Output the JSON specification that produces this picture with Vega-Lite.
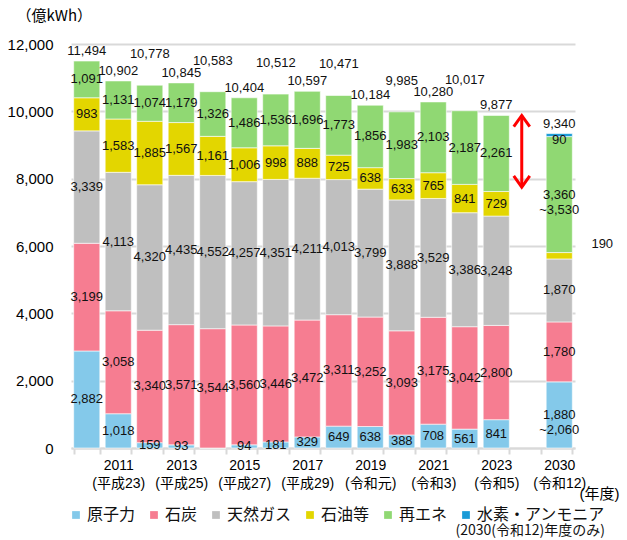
{
  "$schema": "https://vega.github.io/schema/vega-lite/v6.json",
  "width": 504,
  "height": 404,
  "autosize": {"type": "none"},
  "padding": {"left": 71, "top": 44, "right": 52, "bottom": 92},
  "background": "white",
  "config": {
    "view": {"stroke": null},
    "font": "Liberation Sans, Noto Sans CJK JP",
    "axis": {"labelColor": "#000", "titleColor": "#000"}
  },
  "datasets": {
    "gen": [
      {"year": "2010", "source": "原子力", "value": 2882},
      {"year": "2010", "source": "石炭", "value": 3199},
      {"year": "2010", "source": "天然ガス", "value": 3339},
      {"year": "2010", "source": "石油等", "value": 983},
      {"year": "2010", "source": "再エネ", "value": 1091},
      {"year": "2011", "source": "原子力", "value": 1018},
      {"year": "2011", "source": "石炭", "value": 3058},
      {"year": "2011", "source": "天然ガス", "value": 4113},
      {"year": "2011", "source": "石油等", "value": 1583},
      {"year": "2011", "source": "再エネ", "value": 1131},
      {"year": "2012", "source": "原子力", "value": 159},
      {"year": "2012", "source": "石炭", "value": 3340},
      {"year": "2012", "source": "天然ガス", "value": 4320},
      {"year": "2012", "source": "石油等", "value": 1885},
      {"year": "2012", "source": "再エネ", "value": 1074},
      {"year": "2013", "source": "原子力", "value": 93},
      {"year": "2013", "source": "石炭", "value": 3571},
      {"year": "2013", "source": "天然ガス", "value": 4435},
      {"year": "2013", "source": "石油等", "value": 1567},
      {"year": "2013", "source": "再エネ", "value": 1179},
      {"year": "2014", "source": "原子力", "value": 0},
      {"year": "2014", "source": "石炭", "value": 3544},
      {"year": "2014", "source": "天然ガス", "value": 4552},
      {"year": "2014", "source": "石油等", "value": 1161},
      {"year": "2014", "source": "再エネ", "value": 1326},
      {"year": "2015", "source": "原子力", "value": 94},
      {"year": "2015", "source": "石炭", "value": 3560},
      {"year": "2015", "source": "天然ガス", "value": 4257},
      {"year": "2015", "source": "石油等", "value": 1006},
      {"year": "2015", "source": "再エネ", "value": 1486},
      {"year": "2016", "source": "原子力", "value": 181},
      {"year": "2016", "source": "石炭", "value": 3446},
      {"year": "2016", "source": "天然ガス", "value": 4351},
      {"year": "2016", "source": "石油等", "value": 998},
      {"year": "2016", "source": "再エネ", "value": 1536},
      {"year": "2017", "source": "原子力", "value": 329},
      {"year": "2017", "source": "石炭", "value": 3472},
      {"year": "2017", "source": "天然ガス", "value": 4211},
      {"year": "2017", "source": "石油等", "value": 888},
      {"year": "2017", "source": "再エネ", "value": 1696},
      {"year": "2018", "source": "原子力", "value": 649},
      {"year": "2018", "source": "石炭", "value": 3311},
      {"year": "2018", "source": "天然ガス", "value": 4013},
      {"year": "2018", "source": "石油等", "value": 725},
      {"year": "2018", "source": "再エネ", "value": 1773},
      {"year": "2019", "source": "原子力", "value": 638},
      {"year": "2019", "source": "石炭", "value": 3252},
      {"year": "2019", "source": "天然ガス", "value": 3799},
      {"year": "2019", "source": "石油等", "value": 638},
      {"year": "2019", "source": "再エネ", "value": 1856},
      {"year": "2020", "source": "原子力", "value": 388},
      {"year": "2020", "source": "石炭", "value": 3093},
      {"year": "2020", "source": "天然ガス", "value": 3888},
      {"year": "2020", "source": "石油等", "value": 633},
      {"year": "2020", "source": "再エネ", "value": 1983},
      {"year": "2021", "source": "原子力", "value": 708},
      {"year": "2021", "source": "石炭", "value": 3175},
      {"year": "2021", "source": "天然ガス", "value": 3529},
      {"year": "2021", "source": "石油等", "value": 765},
      {"year": "2021", "source": "再エネ", "value": 2103},
      {"year": "2022", "source": "原子力", "value": 561},
      {"year": "2022", "source": "石炭", "value": 3042},
      {"year": "2022", "source": "天然ガス", "value": 3386},
      {"year": "2022", "source": "石油等", "value": 841},
      {"year": "2022", "source": "再エネ", "value": 2187},
      {"year": "2023", "source": "原子力", "value": 841},
      {"year": "2023", "source": "石炭", "value": 2800},
      {"year": "2023", "source": "天然ガス", "value": 3248},
      {"year": "2023", "source": "石油等", "value": 729},
      {"year": "2023", "source": "再エネ", "value": 2261},
      {"year": "2030", "source": "原子力", "value": 1965, "label": "1,880\n~2,060"},
      {"year": "2030", "source": "石炭", "value": 1780},
      {"year": "2030", "source": "天然ガス", "value": 1870},
      {"year": "2030", "source": "石油等", "value": 190},
      {"year": "2030", "source": "再エネ", "value": 3445, "label": "3,360\n~3,530"},
      {"year": "2030", "source": "水素・アンモニア", "value": 90}
    ],
    "totals": [
      {"year": "2010", "total": 11494, "pos": "low"},
      {"year": "2011", "total": 10902, "pos": "low"},
      {"year": "2012", "total": 10778, "pos": "high"},
      {"year": "2013", "total": 10845, "pos": "low"},
      {"year": "2014", "total": 10583, "pos": "high"},
      {"year": "2015", "total": 10404, "pos": "low"},
      {"year": "2016", "total": 10512, "pos": "high"},
      {"year": "2017", "total": 10597, "pos": "low"},
      {"year": "2018", "total": 10471, "pos": "high"},
      {"year": "2019", "total": 10184, "pos": "low"},
      {"year": "2020", "total": 9985, "pos": "high"},
      {"year": "2021", "total": 10280, "pos": "low"},
      {"year": "2022", "total": 10017, "pos": "high"},
      {"year": "2023", "total": 9877, "pos": "low"},
      {"year": "2030", "total": 9340, "pos": "low"}
    ],
    "arrow": [
      {"year": "gap", "top": 9877, "bottom": 7750}
    ]
  },
  "layer": [
    {
      "data": {"name": "gen"},
      "transform": [
        {"calculate": "indexof(['原子力','石炭','天然ガス','石油等','再エネ','水素・アンモニア'], datum.source)", "as": "ord"},
        {"stack": "value", "groupby": ["year"], "sort": [{"field": "ord", "order": "ascending"}], "as": ["y0", "y1"]},
        {"calculate": "(datum.y0 + datum.y1) / 2", "as": "mid"},
        {"calculate": "datum.label != null ? datum.label : (datum.value > 0 ? format(datum.value, ',') : '')", "as": "txt"}
      ],
      "layer": [
        {
          "mark": {"type": "bar", "stroke": "white", "strokeWidth": 0.6},
          "encoding": {
            "x": {
              "field": "year", "type": "nominal", "title": "(年度)",
              "scale": {"domain": ["2010","2011","2012","2013","2014","2015","2016","2017","2018","2019","2020","2021","2022","2023","gap","2030"], "paddingInner": 0.17, "paddingOuter": 0.085},
              "axis": {
                "labelExpr": "datum.value == '2011' ? ['2011','(平成23)'] : datum.value == '2013' ? ['2013','(平成25)'] : datum.value == '2015' ? ['2015','(平成27)'] : datum.value == '2017' ? ['2017','(平成29)'] : datum.value == '2019' ? ['2019','(令和元)'] : datum.value == '2021' ? ['2021','(令和3)'] : datum.value == '2023' ? ['2023','(令和5)'] : datum.value == '2030' ? ['2030','(令和12)'] : ''",
                "labelAngle": 0, "labelFontSize": 14, "labelLineHeight": 18, "labelBaseline": "top", "labelPadding": 4,
                "labelOverlap": false, "labelFont": "Liberation Sans, Noto Sans CJK JP",
                "tickBand": "extent", "ticks": true, "tickColor": "#d9d9d9", "tickSize": 6, "tickWidth": 2,
                "domain": true, "domainColor": "#d9d9d9", "domainWidth": 2, "grid": false,
                "titleAngle": 0, "titleAlign": "left", "titleBaseline": "middle", "titleX": 508, "titleY": 45,
                "titleFontSize": 15, "titleFontWeight": "normal", "titleFont": "Liberation Sans, Noto Sans CJK JP"
              }
            },
            "y": {
              "field": "y0", "type": "quantitative", "title": "（億kWh）",
              "scale": {"domain": [0, 12000], "nice": false},
              "axis": {
                "values": [0, 2000, 4000, 6000, 8000, 10000, 12000], "format": ",.0f",
                "labelFontSize": 15, "labelPadding": 18, "domain": false, "ticks": false,
                "grid": true, "gridColor": "#d9d9d9", "gridWidth": 2,
                "titleAngle": 0, "titleAlign": "left", "titleBaseline": "middle", "titleX": -55, "titleY": -29,
                "titleFontSize": 15, "titleFontWeight": "normal", "titleFont": "Noto Sans CJK JP"
              }
            },
            "y2": {"field": "y1"},
            "color": {
              "field": "source", "type": "nominal",
              "scale": {
                "domain": ["原子力", "石炭", "天然ガス", "石油等", "再エネ", "水素・アンモニア"],
                "range": ["#84C9EA", "#F67D91", "#BFBFBF", "#E3D600", "#90D873", "#1A9BD7"]
              },
              "legend": {
                "orient": "none", "legendX": -3, "legendY": 463, "direction": "horizontal", "columns": 6,
                "symbolType": "square", "symbolSize": 60, "symbolStrokeWidth": 0,
                "labelFontSize": 16, "labelFont": "Noto Sans CJK JP", "labelColor": "#111", "labelOffset": 3, "labelLimit": 200,
                "columnPadding": 10, "padding": 0,
                "title": "(2030(令和12)年度のみ)", "titleOrient": "bottom", "titleAnchor": "end",
                "titleFontSize": 14, "titleFontWeight": "normal", "titleFont": "Noto Sans CJK JP", "titleColor": "#111", "titlePadding": 1
              }
            }
          }
        },
        {
          "transform": [{"filter": "!(datum.year == '2030' && (datum.source == '石油等' || datum.source == '水素・アンモニア'))"}],
          "mark": {"type": "text", "fontSize": 13, "color": "#111", "baseline": "middle", "lineBreak": "\n", "lineHeight": 15},
          "encoding": {
            "x": {"field": "year", "type": "nominal", "title": "(年度)"},
            "y": {"field": "mid", "type": "quantitative", "title": "（億kWh）", "scale": {"domain": [0, 12000], "nice": false}},
            "text": {"field": "txt"}
          }
        },
        {
          "transform": [{"filter": "datum.year == '2030' && datum.source == '石油等'"}],
          "mark": {"type": "text", "fontSize": 13, "color": "#111", "baseline": "middle", "dx": 43, "dy": -12},
          "encoding": {
            "x": {"field": "year", "type": "nominal", "title": "(年度)"},
            "y": {"field": "mid", "type": "quantitative", "title": "（億kWh）", "scale": {"domain": [0, 12000], "nice": false}},
            "text": {"field": "txt"}
          }
        },
        {
          "transform": [{"filter": "datum.year == '2030' && datum.source == '水素・アンモニア'"}],
          "mark": {"type": "text", "fontSize": 13, "color": "#111", "baseline": "middle", "dy": 5},
          "encoding": {
            "x": {"field": "year", "type": "nominal", "title": "(年度)"},
            "y": {"field": "mid", "type": "quantitative", "title": "（億kWh）", "scale": {"domain": [0, 12000], "nice": false}},
            "text": {"field": "txt"}
          }
        }
      ]
    },
    {
      "data": {"name": "totals"},
      "layer": [
        {
          "transform": [{"filter": "datum.pos == 'low'"}],
          "mark": {"type": "text", "fontSize": 13, "color": "#111", "baseline": "bottom", "dy": -3},
          "encoding": {
            "x": {"field": "year", "type": "nominal", "title": "(年度)"},
            "y": {"field": "total", "type": "quantitative", "title": "（億kWh）", "scale": {"domain": [0, 12000], "nice": false}},
            "text": {"field": "total", "format": ","}
          }
        },
        {
          "transform": [{"filter": "datum.pos == 'high'"}],
          "mark": {"type": "text", "fontSize": 13, "color": "#111", "baseline": "bottom", "dy": -24},
          "encoding": {
            "x": {"field": "year", "type": "nominal", "title": "(年度)"},
            "y": {"field": "total", "type": "quantitative", "title": "（億kWh）", "scale": {"domain": [0, 12000], "nice": false}},
            "text": {"field": "total", "format": ","}
          }
        }
      ]
    },
    {
      "data": {"name": "arrow"},
      "layer": [
        {
          "mark": {"type": "rule", "color": "#FF0000", "strokeWidth": 3, "xOffset": -6},
          "encoding": {
            "x": {"field": "year", "type": "nominal", "title": "(年度)"},
            "y": {"field": "top", "type": "quantitative", "title": "（億kWh）", "scale": {"domain": [0, 12000], "nice": false}},
            "y2": {"field": "bottom"}
          }
        },
        {
          "mark": {"type": "point", "shape": "M-1,1.4L0,0L1,1.4", "filled": false, "stroke": "#FF0000", "strokeWidth": 3, "size": 256, "xOffset": -6, "opacity": 1},
          "encoding": {
            "x": {"field": "year", "type": "nominal", "title": "(年度)"},
            "y": {"field": "top", "type": "quantitative", "title": "（億kWh）", "scale": {"domain": [0, 12000], "nice": false}}
          }
        },
        {
          "mark": {"type": "point", "shape": "M-1,-1.4L0,0L1,-1.4", "filled": false, "stroke": "#FF0000", "strokeWidth": 3, "size": 256, "xOffset": -6, "opacity": 1},
          "encoding": {
            "x": {"field": "year", "type": "nominal", "title": "(年度)"},
            "y": {"field": "bottom", "type": "quantitative", "title": "（億kWh）", "scale": {"domain": [0, 12000], "nice": false}}
          }
        }
      ]
    }
  ]
}
